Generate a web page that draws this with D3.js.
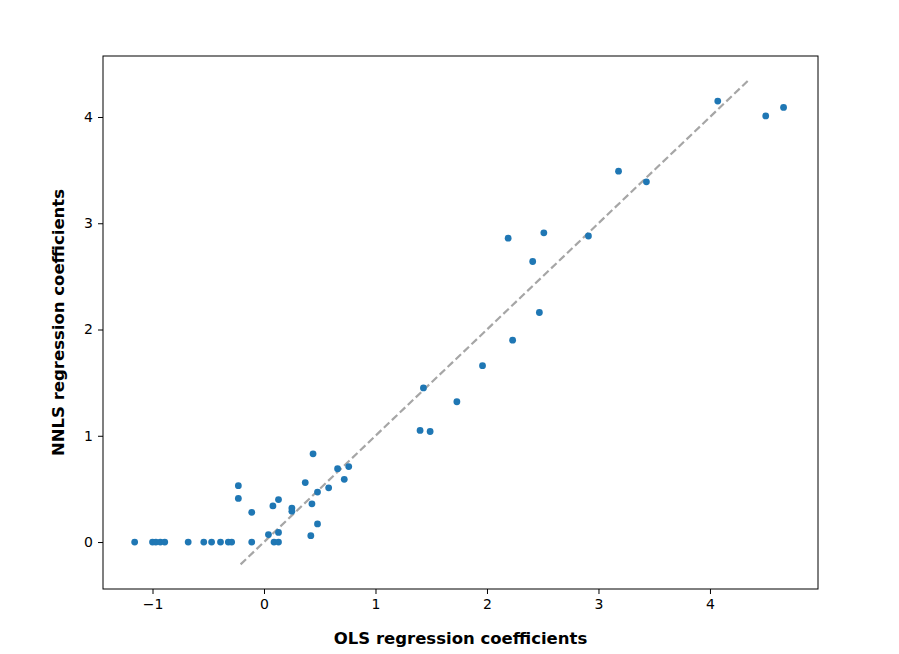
<!DOCTYPE html>
<html><head><meta charset="utf-8">
<script src="https://cdn.jsdelivr.net/npm/d3@7"></script>
<style>body{margin:0;background:#fff}svg{font-family:"DejaVu Sans",sans-serif}</style>
</head><body>
<script>
const olsCoef = [-1.16,-1.0,-0.97,-0.93,-0.89,-0.68,-0.54,-0.47,-0.39,-0.32,-0.29,-0.23,-0.23,-0.11,-0.11,0.04,0.08,0.09,0.13,0.13,0.13,0.25,0.25,0.37,0.42,0.43,0.44,0.48,0.48,0.58,0.66,0.72,0.76,1.40,1.43,1.49,1.73,1.96,2.19,2.23,2.41,2.47,2.51,2.91,3.18,3.43,4.07,4.50,4.66];
const nnlsCoef = [0,0,0,0,0,0,0,0,0,0,0,0.53,0.41,0.28,0,0.07,0.34,0,0,0.09,0.40,0.29,0.32,0.56,0.06,0.36,0.83,0.17,0.47,0.51,0.69,0.59,0.71,1.05,1.45,1.04,1.32,1.66,2.86,1.90,2.64,2.16,2.91,2.88,3.49,3.39,4.15,4.01,4.09];
const diagRange = [-0.21, 4.34];
const xTicks = [-1,0,1,2,3,4];
const yTicks = [0,1,2,3,4];

const W=899,H=654,L=103,R=818,T=56,B=589;
const svg=d3.select("body").append("svg").attr("width",W).attr("height",H);
const x=d3.scaleLinear().domain([-1.444,4.969]).range([L,R]);
const y=d3.scaleLinear().domain([-0.442,4.574]).range([B,T]);

svg.append("line").attr("x1",x(diagRange[0])).attr("y1",y(diagRange[0])).attr("x2",x(diagRange[1])).attr("y2",y(diagRange[1]))
 .attr("stroke","#a6a6a6").attr("stroke-width",2.2).attr("stroke-dasharray","7.5,3.5");

svg.append("g").selectAll("circle").data(olsCoef).join("circle")
 .attr("cx",d=>x(d)).attr("cy",(d,i)=>y(nnlsCoef[i])).attr("r",3.4).attr("fill","#1f77b4");

const fmt=d=>d<0?"−"+Math.abs(d):String(d);
const gx=svg.append("g").attr("transform",`translate(0,${B})`).call(d3.axisBottom(x).tickValues(xTicks).tickSize(5).tickPadding(5).tickFormat(fmt));
const gy=svg.append("g").attr("transform",`translate(${L},0)`).call(d3.axisLeft(y).tickValues(yTicks).tickSize(5).tickPadding(5).tickFormat(fmt));
[gx,gy].forEach(g=>{g.select(".domain").remove();g.selectAll("text").attr("font-size",14).attr("fill","#000").attr("font-family","DejaVu Sans");g.selectAll("line").attr("stroke","#000");});
svg.append("rect").attr("x",L).attr("y",T).attr("width",R-L).attr("height",B-T).attr("fill","none").attr("stroke","#000").attr("stroke-width",1);

svg.append("text").attr("x",(L+R)/2).attr("y",644).attr("text-anchor","middle").attr("font-weight","bold").attr("font-size",16.5).text("OLS regression coefficients");
svg.append("text").attr("transform",`translate(64,${(T+B)/2}) rotate(-90)`).attr("text-anchor","middle").attr("font-weight","bold").attr("font-size",16.5).text("NNLS regression coefficients");
</script>
</body></html>
